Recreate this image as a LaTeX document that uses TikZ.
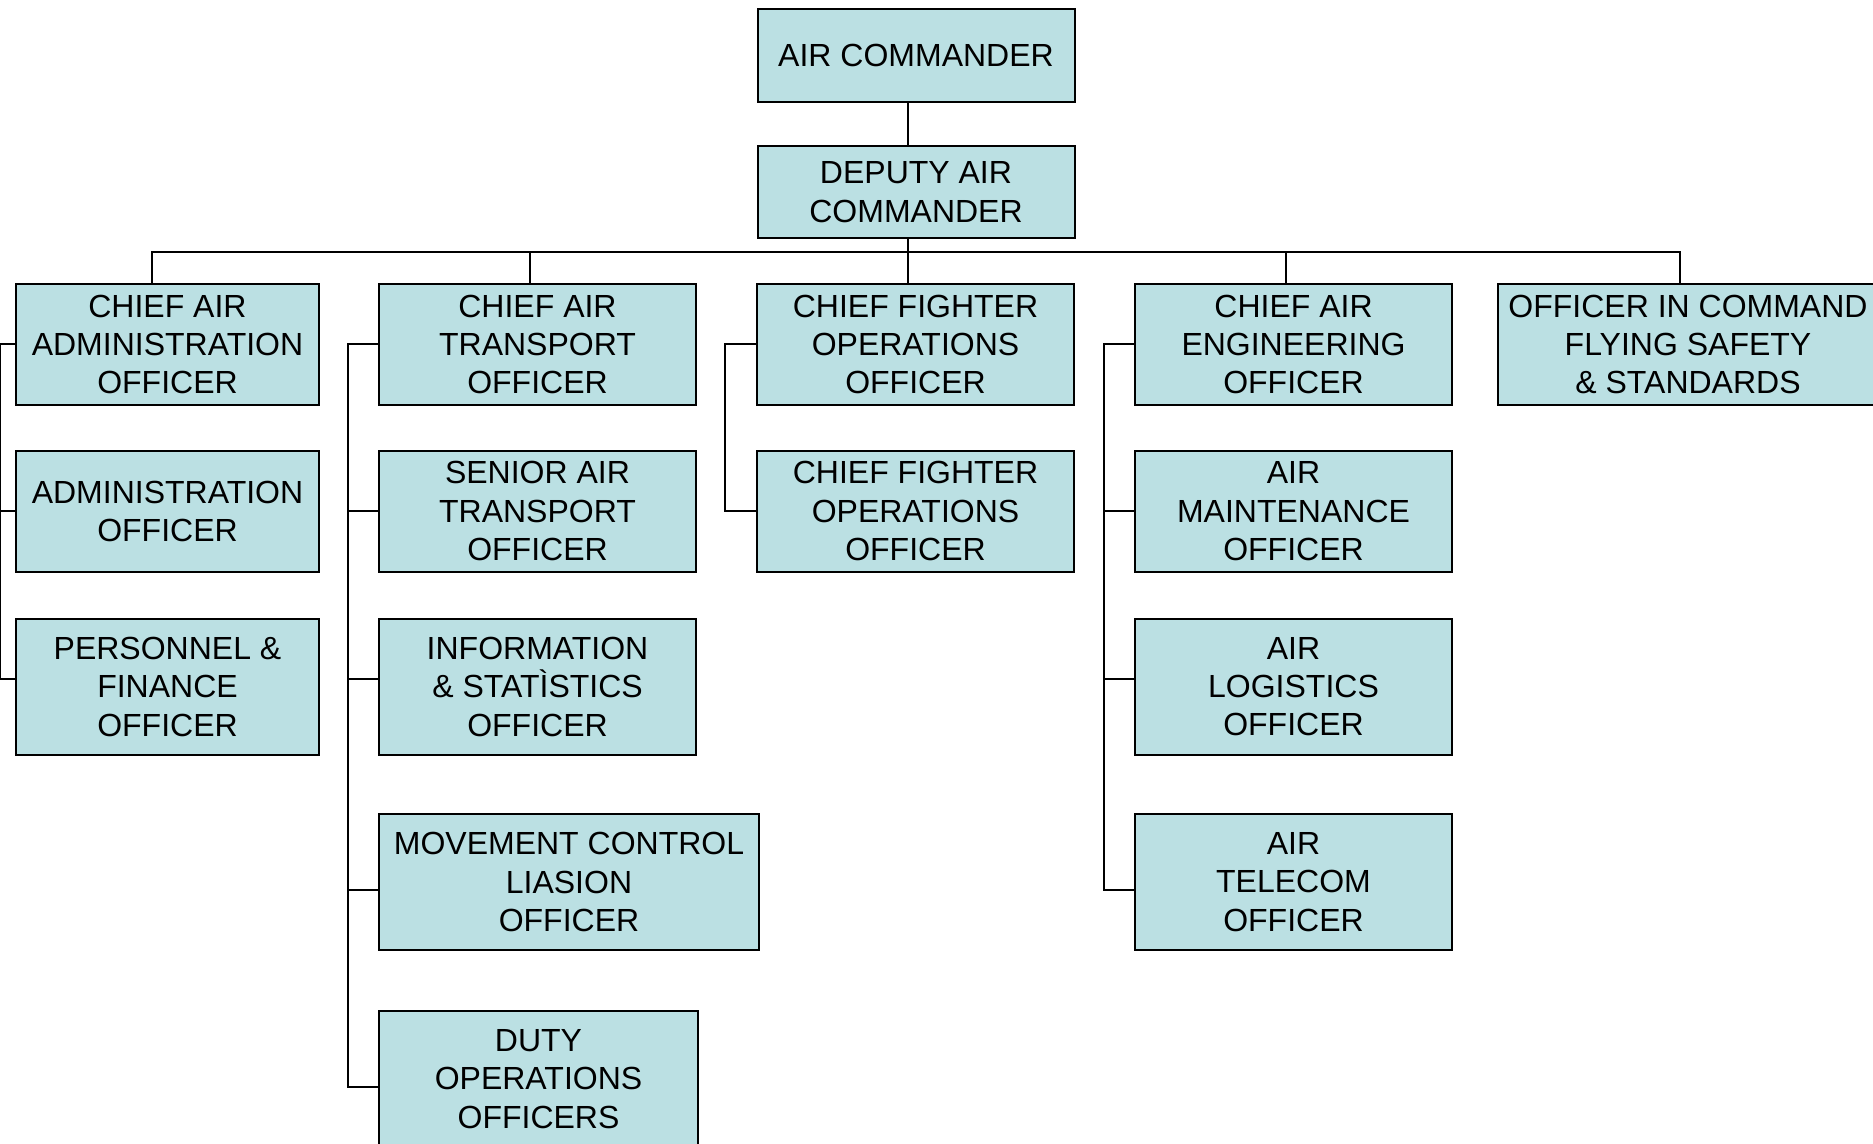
\documentclass[tikz,border=0pt]{standalone}
\usepackage{fontspec}
\setmainfont{Liberation Sans}
\usetikzlibrary{positioning}
\definecolor{boxfill}{HTML}{BBE0E3}

\begin{document}
\begin{tikzpicture}[
    x=0.5pt, y=-0.5pt,
    font=\fontsize{16}{19.2}\selectfont,
    block/.style={
        draw,
        fill=boxfill,
        line width=1pt,
        inner sep=0pt,
        align=center,
        minimum width=158.5pt,
        minimum height=60.4pt
    },
    wide/.style={block, minimum width=190pt},
    tall/.style={block, minimum height=68pt},
    line/.style={line width=1pt}
]
\useasboundingbox (0,0) rectangle (1873,1144);

% ============================================================
% COMMAND
% ============================================================
\node[block, minimum height=46.1pt] (ac) at (916,55.5) {AIR COMMANDER};
\node[block, minimum height=46pt, below=21.3pt of ac] (dac) {DEPUTY AIR\\COMMANDER};
\coordinate[below=6.4pt of dac.south, xshift=-4pt] (bus);

\draw[line] ([xshift=-4pt]ac.south) -- ([xshift=-4pt]dac.north);
\draw[line] ([xshift=-4pt]dac.south) -- (bus);

% ============================================================
% CHIEFS
% ============================================================
\node[block, minimum width=151.5pt, anchor=north] (caao) at (167.5,283) {CHIEF AIR\\ADMINISTRATION\\OFFICER};
\node[block, anchor=north] (cato) at (537.5,283) {CHIEF AIR\\TRANSPORT\\OFFICER};
\node[block, anchor=north] (cfoa) at (915.5,283) {CHIEF FIGHTER\\OPERATIONS\\OFFICER};
\node[block, anchor=north] (caeo) at (1293.5,283) {CHIEF AIR\\ENGINEERING\\OFFICER};
\node[wide, anchor=north] (oic) at (1688,283) {OFFICER IN COMMAND\\FLYING SAFETY\\\& STANDARDS};

\foreach \c/\d in {caao/-7.8pt,cato/-4pt,cfoa/-4pt,caeo/-4pt,oic/-4pt}
    \draw[line] (bus) -| ([xshift=\d]\c.north);

% ============================================================
% ADMINISTRATION
% ============================================================
\node[block, minimum width=151.5pt, below=22pt of caao] (ao) {ADMINISTRATION\\OFFICER};
\node[tall, minimum width=151.5pt, below=22.5pt of ao] (pfo) {PERSONNEL \&\\FINANCE\\OFFICER};

\draw[line] (caao.west) -- ++(-15,0) |- ([yshift=3.8pt]pfo.west);
\draw[line] (ao.west) -- ++(-15,0);

% ============================================================
% TRANSPORT
% ============================================================
\node[block, below=22pt of cato] (sato) {SENIOR AIR\\TRANSPORT\\OFFICER};
\node[tall, below=22.5pt of sato] (iso) {INFORMATION\\\& STATÌSTICS\\OFFICER};
\node[tall, minimum width=190pt, below=28.7pt of iso.south west, anchor=north west] (mclo) {MOVEMENT CONTROL\\LIASION\\OFFICER};
\node[tall, minimum width=159.5pt, below=29.4pt of mclo.south west, anchor=north west] (doo) {DUTY\\OPERATIONS\\OFFICERS};

\draw[line] (cato.west) -- ++(-30,0) |- ([yshift=-4pt]doo.west);
\draw[line] (sato.west) -- ++(-30,0);
\draw[line] ([yshift=3.8pt]iso.west) -- ++(-30,0);
\draw[line] ([yshift=-4pt]mclo.west) -- ++(-30,0);

% ============================================================
% FIGHTER OPERATIONS
% ============================================================
\node[block, below=22pt of cfoa] (cfob) {CHIEF FIGHTER\\OPERATIONS\\OFFICER};

\draw[line] (cfoa.west) -- ++(-31,0) |- (cfob.west);

% ============================================================
% ENGINEERING
% ============================================================
\node[block, below=22pt of caeo] (amo) {AIR\\MAINTENANCE\\OFFICER};
\node[tall, below=22.5pt of amo] (alo) {AIR\\LOGISTICS\\OFFICER};
\node[tall, below=28.7pt of alo] (ato) {AIR\\TELECOM\\OFFICER};

\draw[line] (caeo.west) -- ++(-30,0) |- ([yshift=-4pt]ato.west);
\draw[line] (amo.west) -- ++(-30,0);
\draw[line] ([yshift=3.8pt]alo.west) -- ++(-30,0);

\end{tikzpicture}
\end{document}
